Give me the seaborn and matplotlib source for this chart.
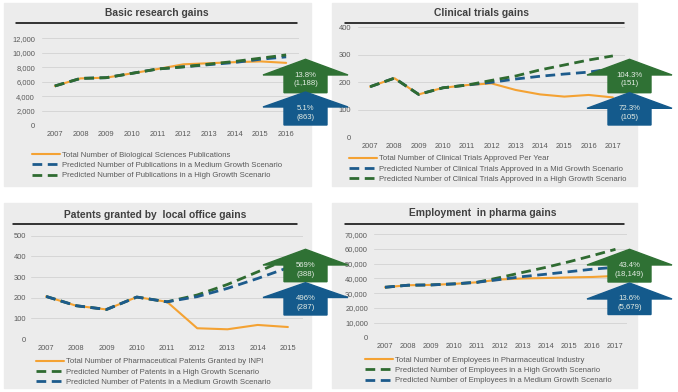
import numpy as np
import pandas as pd
import seaborn as sns
import matplotlib.pyplot as plt
import matplotlib.ticker as mticker
from matplotlib.patches import Rectangle, Polygon
from matplotlib.lines import Line2D

sns.set_style("white")
plt.rcParams["font.family"] = ["Liberation Sans", "DejaVu Sans"]

W, H = 678, 392

# ---- data ----
pub_years = list(range(2007, 2017))
pub_total = [5400, 6450, 6550, 7150, 7750, 8400, 8550, 8700, 8800, 8600]
pub_medium = [5400, 6450, 6550, 7150, 7750, 8050, 8350, 8650, 9100, 9430]
pub_high = [5400, 6450, 6550, 7150, 7750, 8050, 8430, 8800, 9250, 9700]

ct_years = list(range(2007, 2018))
ct_total = [184, 215, 156, 180, 190, 196, 172, 156, 148, 154, 145]
ct_mid = [184, 215, 156, 180, 190, 200, 212, 222, 230, 237, 250]
ct_high = [184, 215, 156, 180, 190, 207, 223, 245, 263, 281, 296]

pat_years = list(range(2007, 2016))
pat_total = [206, 161, 143, 203, 180, 52, 47, 68, 58]
pat_high = [206, 161, 143, 203, 180, 213, 264, 325, 388]
pat_medium = [206, 161, 143, 203, 180, 205, 245, 293, 345]

emp_years = list(range(2007, 2018))
emp_total = [34000, 35400, 35600, 36300, 37400, 39300, 40000, 40300, 40700, 41000, 41700]
emp_high = [34000, 35400, 35600, 36300, 37400, 40700, 44200, 47600, 51400, 55500, 59800]
emp_medium = [34000, 35400, 35600, 36300, 37400, 39300, 41300, 42900, 44600, 46300, 47600]

ORANGE = "#F4A233"
BLUE = "#1D5B8C"
GREEN = "#2F6B31"
ARROW_GREEN = "#2F7134"
ARROW_BLUE = "#145A8C"
BG = "#ECECEC"
GRID = "#D6D6D6"
TXT = "#595959"


def fx(x):
    return x / W


def fy(y):
    return 1 - y / H


fig = plt.figure(figsize=(W / 100, H / 100), dpi=100)

# panel backgrounds
for x0, y0, x1, y1 in [(4, 3, 311, 186), (332, 3, 637, 186),
                       (4, 203, 311, 388), (332, 203, 637, 388)]:
    fig.patches.append(Rectangle((fx(x0), fy(y1)), fx(x1 - x0), (y1 - y0) / H,
                                 transform=fig.transFigure, color=BG, zorder=-5))


def panel(box, years, series, ymax, ystep, title, title_xy, line_x, line_y,
          leg_xy, ypad):
    left, top, right, bottom = box
    ax = fig.add_axes([fx(left), fy(bottom), fx(right - left), (bottom - top) / H])
    ax.set_facecolor("none")
    for vals, lab, col, dashed in series:
        if dashed:
            sns.lineplot(x=years, y=vals, ax=ax, color=col, lw=2.0,
                         linestyle=(0, (3.5, 2)), label=lab, legend=False)
        else:
            sns.lineplot(x=years, y=vals, ax=ax, color=col, lw=1.5,
                         label=lab, legend=False)
    ax.set_xlim(years[0] - 0.5, years[-1] + 0.5)
    ax.set_ylim(0, ymax)
    ax.set_xticks(years)
    ax.set_yticks(np.arange(0, ymax + 1, ystep))
    ax.yaxis.set_major_formatter(mticker.FuncFormatter(lambda v, p: f"{int(v):,}"))
    ax.grid(axis="y", color=GRID, lw=0.7)
    ax.grid(axis="x", visible=False)
    for s in ax.spines.values():
        s.set_visible(False)
    ax.tick_params(length=0, labelsize=5.4, colors=TXT)
    ax.tick_params(axis="y", pad=ypad)
    ax.tick_params(axis="x", pad=4)
    ax.set_xlabel("")
    ax.set_ylabel("")
    fig.text(fx(title_xy[0]), fy(title_xy[1]), title, ha="center", va="center",
             fontsize=7.4, fontweight="bold", color="#404040")
    fig.add_artist(Line2D([fx(line_x[0]), fx(line_x[1])], [fy(line_y), fy(line_y)],
                          transform=fig.transFigure, color="black", lw=1.1))
    h, l = ax.get_legend_handles_labels()
    fig.legend(h, l, loc="upper left", bbox_to_anchor=(fx(leg_xy[0]), fy(leg_xy[1])),
               frameon=False, fontsize=5.6, borderpad=0, borderaxespad=0,
               handlelength=3.6, handletextpad=0.25, labelspacing=0.36,
               labelcolor=TXT)
    return ax


panel((42, 38.3, 299, 125), pub_years,
      [(pub_total, "Total Number of Biological Sciences Publications", ORANGE, False),
       (pub_medium, "Predicted Number of Publications in a Medium Growth Scenario", BLUE, True),
       (pub_high, "Predicted Number of Publications in a High Growth Scenario", GREEN, True)],
      12000, 2000, "Basic research gains", (157, 13.5), (16, 297), 23, (32, 151.5), 5)

panel((358, 27.3, 625, 137.3), ct_years,
      [(ct_total, "Total Number of Clinical Trials Approved Per Year", ORANGE, False),
       (ct_mid, "Predicted Number of Clinical Trials Approved in a Mid Growth Scenario", BLUE, True),
       (ct_high, "Predicted Number of Clinical Trials Approved in a High Growth Scenario", GREEN, True)],
      400, 100, "Clinical trials gains", (482, 13.5), (345, 624), 22.5, (349, 155), 5)

panel((31, 235.7, 303, 339), pat_years,
      [(pat_total, "Total Number of Pharmaceutical Patents Granted by INPI", ORANGE, False),
       (pat_high, "Predicted Number of Patents in a High Growth Scenario", GREEN, True),
       (pat_medium, "Predicted Number of Patents in a Medium Growth Scenario", BLUE, True)],
      500, 100, "Patents granted by  local office gains", (155, 215), (13, 297), 224.3,
      (36, 358), 3.5)

panel((373.5, 234.3, 627, 337.3), emp_years,
      [(emp_total, "Total Number of Employees in Pharmaceutical Industry", ORANGE, False),
       (emp_high, "Predicted Number of Employees in a High Growth Scenario", GREEN, True),
       (emp_medium, "Predicted Number of Employees in a Medium Growth Scenario", BLUE, True)],
      70000, 10000, "Employment  in pharma gains", (483, 213.5), (345, 624), 223.7,
      (365, 356.5), 4)


# block arrows with the gain labels
def arrow(cx, tip, base, bottom, color, text, text_y):
    hw, sw = 42.5, 21.5
    pts = [(cx, tip), (cx + hw, base), (cx + sw, base), (cx + sw, bottom),
           (cx - sw, bottom), (cx - sw, base), (cx - hw, base)]
    fig.patches.append(Polygon([(fx(x), fy(y)) for x, y in pts], closed=True,
                               transform=fig.transFigure, color=color, zorder=10))
    fig.text(fx(cx), fy(text_y), text, ha="center", va="center", fontsize=5.6,
             color="#E4ECE4", zorder=11, linespacing=1.3)


arrow(305.5, 59.3, 75, 92.7, ARROW_GREEN, "13.8%\n(1,188)", 79.5)
arrow(305.5, 92, 107, 125, ARROW_BLUE, "5.1%\n(863)", 113)
arrow(629.5, 59.3, 75, 92.7, ARROW_GREEN, "104.3%\n(151)", 79.5)
arrow(629.5, 92.7, 108.3, 125, ARROW_BLUE, "72.3%\n(105)", 113)
arrow(305.5, 249.3, 265, 281.7, ARROW_GREEN, "569%\n(388)", 270)
arrow(305.5, 282.7, 297.5, 315, ARROW_BLUE, "496%\n(287)", 303)
arrow(629.5, 249.3, 265, 282, ARROW_GREEN, "43.4%\n(18,149)", 270)
arrow(629.5, 283, 299, 314.5, ARROW_BLUE, "13.6%\n(5,679)", 303)

fig.savefig("out.png", dpi=100)
